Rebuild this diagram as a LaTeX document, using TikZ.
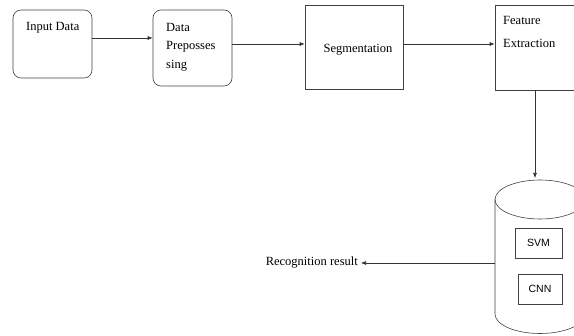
\documentclass[tikz,border=0pt]{standalone}
\usepackage{fontspec}
\setmainfont{Liberation Serif}
\setsansfont{Liberation Sans}
\usetikzlibrary{arrows.meta}

\begin{document}
\begin{tikzpicture}[x=1pt,y=-1pt,
    box/.style={draw=black!75,line width=0.6pt,inner sep=0pt},
    rbox/.style={box,rounded corners=8pt},
    txt/.style={inner sep=0pt,font=\fontsize{12.5}{15}\selectfont},
    arr/.style={draw=black!80,line width=0.6pt,-{Latex[length=5pt,width=4pt]}}]
    \path[use as bounding box,clip] (0,0) rectangle (574,336);
    % boxes along the top
    \node[rbox,minimum width=79pt,minimum height=68pt] (input) at (52.5,44) {};
    \node[rbox,minimum width=79pt,minimum height=76pt] (prep) at (192.5,48) {};
    \node[box,minimum width=98pt,minimum height=84pt] (seg) at (354,47) {};
    \node[box,minimum width=84pt,minimum height=85pt] (feat) at (537,47.5) {};
    \node[txt,anchor=west] (inputtxt) at (26,28) {Input Data};
    \foreach \t/\y in {Data/29, Preposses/47, sing/66}{
      \node[txt,anchor=west] (prep\t) at (166,\y) {\strut\t};
    }
    \node[txt] (segtxt) at (358,50) {Segmentation};
    \node[txt,anchor=west] (feattxt1) at (503,20) {Feature};
    \node[txt,anchor=west] (feattxt2) at (503,43) {Extraction};
    % classifier store
    \draw[black!75,line width=0.6pt] (540,199.5) ellipse (45 and 19.5);
    \draw[black!75,line width=0.6pt] (495,199.5) -- (495,314) arc (180:0:45 and 19.5) -- (585,199.5);
    \coordinate (dbtop) at (535,178);
    \coordinate (db) at (495,263);
    \node[box,font=\sffamily\fontsize{10.5}{12}\selectfont,minimum width=47pt,minimum height=30pt] (svm) at (538.5,243) {SVM};
    \node[box,font=\sffamily\fontsize{10.5}{12}\selectfont,minimum width=44pt,minimum height=30pt] (cnn) at (540,289) {CNN};
    \node[txt,anchor=east] (result) at (358,263) {Recognition result};
    % connectors
    \draw[arr] ([yshift=6pt]input.east) -- ([yshift=6pt]input.east -| prep.west);
    \draw[arr] ([yshift=4pt]prep.east) -- ([yshift=4pt]prep.east -| seg.west);
    \draw[arr] ([yshift=3pt]seg.east) -- ([yshift=3pt]seg.east -| feat.west);
    \draw[arr] (feat.south -| dbtop) -- (dbtop);
    \draw[arr] (db) -- ([xshift=3pt]result.east);
  \end{tikzpicture}
\end{document}
